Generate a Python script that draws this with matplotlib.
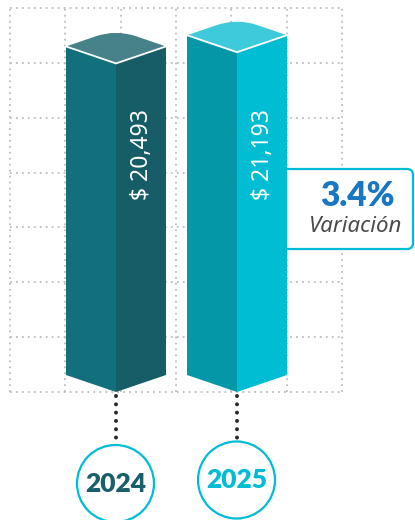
import numpy as np
import matplotlib
matplotlib.use("Agg")
import matplotlib.pyplot as plt
from matplotlib.patches import Polygon, PathPatch, Ellipse, FancyBboxPatch
from matplotlib.path import Path

# data
years = ["2024", "2025"]
values = [20493, 21193]
value_labels = ["$ 20,493", "$ 21,193"]
variation = "3.4%"
variation_label = "Variación"

plt.rcParams['font.family'] = ['Noto Sans', 'DejaVu Sans']

# styles
left_cols = ["#11707c", "#0497a8"]
right_cols = ["#165d68", "#00bdd4"]
top_cols = ["#47818a", "#3ecadb"]
year_cols = ["#1a5f6c", "#00bcd4"]
cyan = "#00bcd4"

U = 62.37          # value units per pixel on the y axis


def Y(p):
    # pixel row -> y value
    return (392 - p) * U


fig = plt.figure(figsize=(4.15, 5.2), dpi=100)
ax = fig.add_axes([0, 0, 1, 1])
ax.set_xlim(0, 415)
ax.set_ylim(-128 * U, 392 * U)
ax.axis('off')

# dotted background grid
grid_y = np.arange(8) * 3420
grid_x = 10 + np.arange(7) * 55.33
for gy in grid_y:
    ax.plot([grid_x[0], grid_x[-1]], [gy, gy], color="#bdbdbd", lw=1.3,
            dashes=(1, 2.3), zorder=1)
for gx in grid_x:
    ax.plot([gx, gx], [grid_y[0], grid_y[-1]], color="#bdbdbd", lw=1.3,
            dashes=(1, 2.3), zorder=1)

# variation box (left edge hidden behind the bar)
box = FancyBboxPatch((275, Y(249)), 138, Y(169) - Y(249),
                     boxstyle="round,pad=0,rounding_size=6",
                     mutation_aspect=U, fc="white", ec=cyan, lw=1.6, zorder=2)
ax.add_patch(box)
ax.text(357, Y(196), variation, color="#1976c4", fontsize=24,
        family=['Lato', 'DejaVu Sans'], fontweight='heavy',
        ha='center', va='center', zorder=5)
ax.text(356, Y(227), variation_label, color="#4a4a4a", fontsize=16,
        style='italic', ha='center', va='center', zorder=5)

centers = [116, 237]
hw = 50
c = 17 * U
back = 34 * U
circle_y = [483.5, 480]

for i, v in enumerate(values):
    cx = centers[i]
    left = Polygon([(cx - hw, c), (cx, 0), (cx, v), (cx - hw, v + c)],
                   closed=True, fc=left_cols[i], ec='none', zorder=3)
    right = Polygon([(cx, 0), (cx + hw, c), (cx + hw, v + c), (cx, v)],
                    closed=True, fc=right_cols[i], ec='none', zorder=3)
    ax.add_patch(left)
    ax.add_patch(right)

    # top face with a rounded back corner
    t = 0.4
    pl = (cx - hw * t, v + c + (back - c) * (1 - t))
    pr = (cx + hw * t, v + c + (back - c) * (1 - t))
    verts = [(cx - hw, v + c), (cx, v), (cx + hw, v + c), pr,
             (cx, v + back), pl, (cx - hw, v + c)]
    codes = [Path.MOVETO, Path.LINETO, Path.LINETO, Path.LINETO,
             Path.CURVE3, Path.CURVE3, Path.CLOSEPOLY]
    ax.add_patch(PathPatch(Path(verts, codes), fc=top_cols[i], ec='none',
                           zorder=4))
    ax.plot([cx - hw, cx, cx + hw], [v + c, v, v + c], color='white',
            lw=1.3, zorder=4, solid_joinstyle='miter')

    ax.text(cx + 26, Y(155), value_labels[i], color='white', fontsize=16.5,
            rotation=90, ha='center', va='center', zorder=5)

    # dotted connector and year circle
    cy = circle_y[i]
    ax.plot([cx, cx], [Y(396), Y(cy - 40)], color="#2a2a2a", lw=2.9,
            dashes=(0.01, 2.05), dash_capstyle='round', zorder=3)
    ax.add_patch(Ellipse((cx - 0.5, Y(cy)), 77, 77 * U, fc='white', ec=cyan,
                         lw=1.6, zorder=4))
    ax.text(cx - 0.5, Y(cy), years[i], color=year_cols[i], fontsize=19,
            family=['Lato', 'DejaVu Sans'], fontweight='heavy',
            ha='center', va='center', zorder=5)

fig.savefig("out.png", dpi=100)
